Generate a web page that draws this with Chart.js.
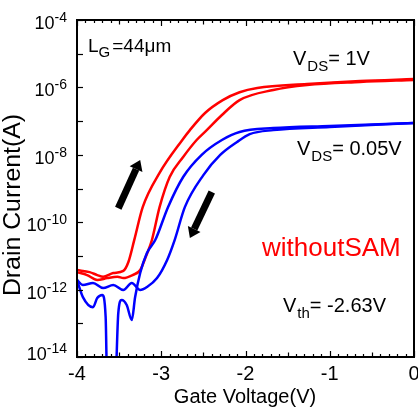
<!DOCTYPE html>
<html>
<head>
<meta charset="utf-8">
<script src="https://cdn.jsdelivr.net/npm/chart.js@4.4.0/dist/chart.umd.min.js"></script>
<style>
  html, body { margin: 0; padding: 0; background: #fff; }
  #wrap { width: 418px; height: 408px; }
</style>
</head>
<body>
<div id="wrap"><canvas id="c" width="418" height="408"></canvas></div>
<script>
// Transfer curves: gate voltage (V) vs drain current (A)
// VDS = 1V, forward and reverse sweep
const vgRedUp = [-4.00, -3.85, -3.76, -3.69, -3.57, -3.45, -3.39, -3.32, -3.22, -3.02, -2.75, -2.66, -2.48, -2.27, -2.07, -1.86, -1.27, -0.64, 0];
const idRedUp = [3.8e-12, 3.3e-12, 2.7e-12, 2.4e-12, 3.1e-12, 3.6e-12, 6.6e-12, 3.0e-11, 2.8e-10, 2.9e-9, 2.75e-8, 5.4e-8, 1.74e-7, 4.2e-7, 7.2e-7, 9.6e-7, 1.26e-6, 1.55e-6, 1.77e-6];
const vgRedDown = [-4.00, -3.88, -3.76, -3.64, -3.52, -3.45, -3.34, -3.25, -3.18, -3.11, -3.02, -2.90, -2.74, -2.58, -2.46, -2.28, -2.07, -1.67, -1.27, -0.64, 0];
const idRedDown = [3.3e-12, 2.7e-12, 1.93e-12, 2.2e-12, 2.4e-12, 2.2e-12, 2.7e-12, 3.8e-12, 9.9e-12, 3.0e-11, 2.8e-10, 2.2e-9, 8.6e-9, 2.75e-8, 5.4e-8, 1.52e-7, 4.2e-7, 8.4e-7, 1.18e-6, 1.45e-6, 1.66e-6];
// VDS = 0.05V
const vgBlueUp = [-4.00, -3.93, -3.81, -3.76, -3.70, -3.66, -3.64, -3.55, -3.51, -3.47, -3.41, -3.35, -3.31, -3.25, -3.17, -3.07, -2.92, -2.74, -2.52, -2.28, -2.07, -1.67, -1.00, 0];
const idBlueUp = [1.93e-12, 6.0e-13, 3.0e-13, 5.6e-13, 6.9e-13, 1.54e-13, 1e-15, 1e-15, 2.0e-13, 4.9e-13, 3.5e-13, 1.25e-13, 6.0e-13, 3.1e-12, 1.22e-11, 3.0e-11, 2.8e-10, 2.2e-9, 1.0e-8, 2.75e-8, 4.75e-8, 6.2e-8, 7.2e-8, 8.8e-8];
const vgBlueDown = [-4.00, -3.93, -3.81, -3.69, -3.57, -3.45, -3.35, -3.25, -3.17, -3.05, -2.93, -2.84, -2.72, -2.50, -2.30, -2.10, -1.95, -1.67, -1.00, 0];
const idBlueDown = [1.93e-12, 1.37e-12, 1.57e-12, 1.11e-12, 1.37e-12, 9.7e-13, 1.57e-12, 9.7e-13, 1.19e-12, 2.2e-12, 7.6e-12, 3.0e-11, 2.8e-10, 2.5e-9, 9.9e-9, 2.4e-8, 4.1e-8, 5.4e-8, 6.7e-8, 8.8e-8];

// axis ticks
const xTicks = [-4, -3, -2, -1, 0];
const yLabelExps = [-4, -6, -8, -10, -12, -14];
const yTickExps = [-4, -5, -6, -7, -8, -9, -10, -11, -12, -13, -14];

// sweep direction arrows [tail, head] in data units
const arrowUp = [[-3.51, 2.6e-10], [-3.25, 7.0e-9]];
const arrowDown = [[-2.40, 7.9e-10], [-2.66, 3.4e-11]];

const FONT = "'Liberation Sans', Arial, sans-serif";
const RED = '#ff0000';
const BLUE = '#0000ff';

function pts(xs, ys) {
    return xs.map((x, i) => ({ x: x, y: ys[i] }));
}

// draws text with sub/superscript pieces, left aligned at x, baseline y
function richText(ctx, x, y, parts, color) {
    ctx.fillStyle = color || '#000';
    ctx.textAlign = 'left';
    ctx.textBaseline = 'alphabetic';
    parts.forEach(p => {
        ctx.font = p.size + 'px ' + FONT;
        ctx.fillText(p.t, x, y + (p.dy || 0));
        x += ctx.measureText(p.t).width + (p.gap || 0);
    });
}

function drawArrow(ctx, xs, ys, a) {
    const x0 = xs.getPixelForValue(a[0][0]), y0 = ys.getPixelForValue(a[0][1]);
    const x1 = xs.getPixelForValue(a[1][0]), y1 = ys.getPixelForValue(a[1][1]);
    const ang = Math.atan2(y1 - y0, x1 - x0);
    const headLen = 10, headW = 7;
    const bx = x1 - headLen * Math.cos(ang), by = y1 - headLen * Math.sin(ang);
    ctx.strokeStyle = '#000';
    ctx.lineWidth = 7;
    ctx.lineCap = 'butt';
    ctx.beginPath();
    ctx.moveTo(x0, y0);
    ctx.lineTo(bx, by);
    ctx.stroke();
    ctx.fillStyle = '#000';
    ctx.beginPath();
    ctx.moveTo(x1, y1);
    ctx.lineTo(bx + headW * Math.sin(ang), by - headW * Math.cos(ang));
    ctx.lineTo(bx - headW * Math.sin(ang), by + headW * Math.cos(ang));
    ctx.closePath();
    ctx.fill();
}

const framePlugin = {
    id: 'frame',
    afterDatasetsDraw(chart) {
        const ctx = chart.ctx;
        const a = chart.chartArea;
        const xs = chart.scales.x, ys = chart.scales.y;
        ctx.save();

        // ticks, bottom and top (inward)
        ctx.strokeStyle = '#000';
        ctx.lineWidth = 1.2;
        for (let i = 0; i <= 40; i++) {
            const px = Math.round(xs.getPixelForValue(-4 + i * 0.1)) + 0.5;
            const len = i % 10 === 0 ? 6 : (i % 5 === 0 ? 4.5 : 3);
            ctx.beginPath();
            ctx.moveTo(px, a.bottom);
            ctx.lineTo(px, a.bottom - len);
            ctx.moveTo(px, a.top);
            ctx.lineTo(px, a.top + len);
            ctx.stroke();
        }
        // ticks, left
        yTickExps.forEach(e => {
            const py = Math.round(ys.getPixelForValue(Math.pow(10, e))) + 0.5;
            ctx.beginPath();
            ctx.moveTo(a.left, py);
            ctx.lineTo(a.left + 6, py);
            ctx.stroke();
        });

        // frame
        ctx.lineWidth = 2;
        ctx.strokeRect(a.left, a.top, a.right - a.left, a.bottom - a.top);

        // y labels 10^n
        yLabelExps.forEach((e, i) => {
            const py = ys.getPixelForValue(Math.pow(10, e));
            ctx.font = '14px ' + FONT;
            const sup = String(e);
            const sw = ctx.measureText(sup).width;
            ctx.font = '18px ' + FONT;
            const bw = ctx.measureText('10').width;
            const right = 67;
            const off = i === yLabelExps.length - 1 ? 3 : 9;
            richText(ctx, right - sw - bw, py + off, [
                { t: '10', size: 18 },
                { t: sup, size: 14, dy: -7 }
            ]);
        });

        // x labels
        ctx.fillStyle = '#000';
        ctx.font = '20px ' + FONT;
        ctx.textAlign = 'center';
        ctx.textBaseline = 'alphabetic';
        xTicks.forEach(v => {
            ctx.fillText(String(v), xs.getPixelForValue(v), 380);
        });

        // axis titles
        ctx.fillText('Gate Voltage(V)', 245, 403);
        ctx.save();
        ctx.translate(20, 205);
        ctx.rotate(-Math.PI / 2);
        ctx.scale(1.08, 1);
        ctx.font = '23px ' + FONT;
        ctx.textAlign = 'center';
        ctx.fillText('Drain Current(A)', 0, 0);
        ctx.restore();

        // annotations
        richText(ctx, 88, 52, [
            { t: 'L', size: 19 },
            { t: 'G', size: 15, dy: 5, gap: 2 },
            { t: '=44\u03bcm', size: 19 }
        ]);
        richText(ctx, 293, 65, [
            { t: 'V', size: 20, gap: 1 },
            { t: 'DS', size: 15, dy: 6 },
            { t: '= 1V', size: 20 }
        ]);
        richText(ctx, 297, 155, [
            { t: 'V', size: 20, gap: 1 },
            { t: 'DS', size: 15, dy: 6 },
            { t: '= 0.05V', size: 20 }
        ]);
        richText(ctx, 262, 256, [{ t: 'withoutSAM', size: 26 }], RED);
        richText(ctx, 283, 312, [
            { t: 'V', size: 20, gap: 1 },
            { t: 'th', size: 15, dy: 6 },
            { t: '= -2.63V', size: 20 }
        ]);

        drawArrow(ctx, xs, ys, arrowUp);
        drawArrow(ctx, xs, ys, arrowDown);
        ctx.restore();
    }
};

const lineStyle = {
    borderWidth: 2.5,
    pointRadius: 0,
    fill: false,
    cubicInterpolationMode: 'monotone'
};

new Chart(document.getElementById('c'), {
    type: 'line',
    data: {
        datasets: [
            Object.assign({ label: 'VDS=0.05V up', data: pts(vgBlueUp, idBlueUp), borderColor: BLUE }, lineStyle),
            Object.assign({ label: 'VDS=0.05V down', data: pts(vgBlueDown, idBlueDown), borderColor: BLUE }, lineStyle),
            Object.assign({ label: 'VDS=1V up', data: pts(vgRedUp, idRedUp), borderColor: RED }, lineStyle),
            Object.assign({ label: 'VDS=1V down', data: pts(vgRedDown, idRedDown), borderColor: RED }, lineStyle)
        ]
    },
    options: {
        responsive: false,
        animation: false,
        devicePixelRatio: 1,
        layout: { padding: { left: 77, right: 4, top: 20, bottom: 51 } },
        plugins: { legend: { display: false }, tooltip: { enabled: false } },
        scales: {
            x: { type: 'linear', min: -4, max: 0, display: false },
            y: { type: 'logarithmic', min: 1e-14, max: 1e-4, display: false }
        }
    },
    plugins: [framePlugin]
});
</script>
</body>
</html>
